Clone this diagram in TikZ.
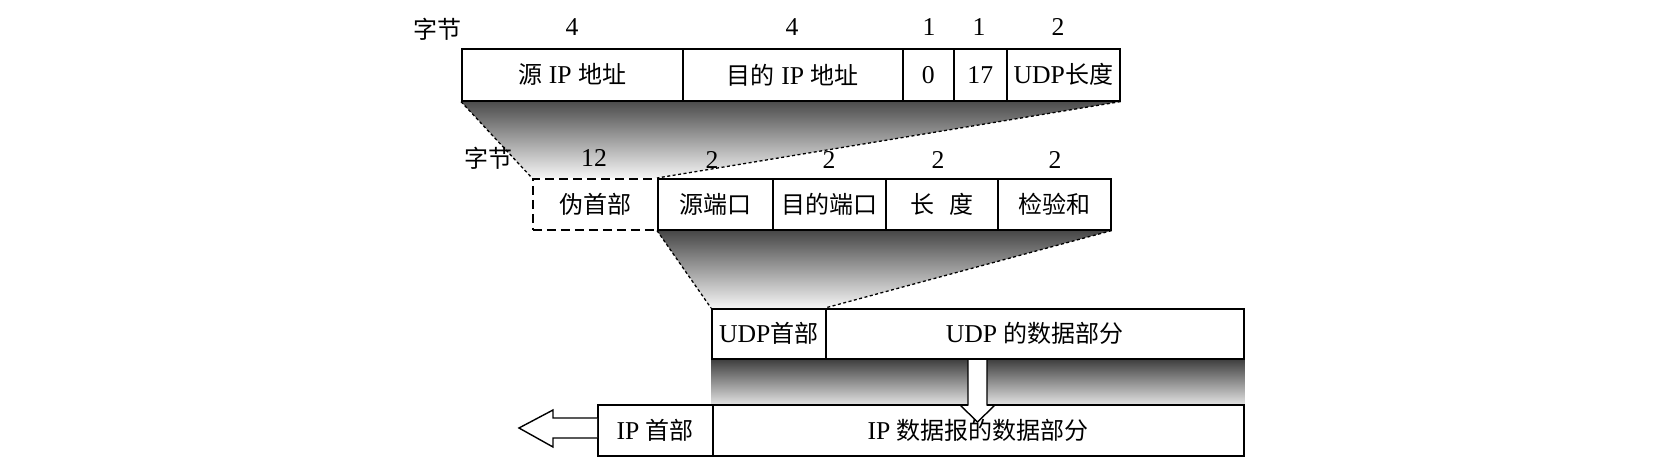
\documentclass[tikz,border=0pt]{standalone}
\usepackage{fontspec}
\setmainfont[Scale=1.07]{Liberation Serif}
\newfontfamily\cjk{Noto Sans CJK SC}
\newcommand{\zh}[1]{{\cjk #1}}
\usetikzlibrary{backgrounds}
\begin{document}
\begin{tikzpicture}[x=1pt,y=-1pt,
  every node/.style={font=\fontsize{24}{28}\selectfont},
  fld/.style 2 args={draw, line width=1.6pt, anchor=north west, inner sep=0pt,
    minimum width=#1, minimum height=#2},
  lbl/.style={inner sep=0pt},
  edgeline/.style={line width=1.3pt, dash pattern=on 3pt off 2.5pt},
  arrowline/.style={draw, line width=1.4pt, line join=miter}]
\useasboundingbox (0,0) rectangle (1678,476);

% row 1
\node[fld={221pt}{52pt}] (srcip) at (461,48) {\zh{源} IP \zh{地址}};
\node[fld={220pt}{52pt}] (dstip) at (682,48) {\zh{目的} IP \zh{地址}};
\node[fld={51pt}{52pt}] (zero) at (902,48) {0};
\node[fld={53pt}{52pt}] (proto) at (953,48) {17};
\node[fld={113pt}{52pt}] (udplen) at (1006,48) {UDP\zh{长度}};
\node[lbl] (bytes1) at (437,29) {\zh{字节}};
\node[lbl] (n11) at (572,27) {4};
\node[lbl] (n12) at (792,27) {4};
\node[lbl] (n13) at (929,27) {1};
\node[lbl] (n14) at (979,27) {1};
\node[lbl] (n15) at (1058,27) {2};

% row 2
\node[fld={125pt}{51pt}, dash pattern=on 9pt off 5pt] (pseudo) at (532,178) {\zh{伪首部}};
\node[fld={115pt}{51pt}] (srcport) at (657,178) {\zh{源端口}};
\node[fld={113pt}{51pt}] (dstport) at (772,178) {\zh{目的端口}};
\node[fld={112pt}{51pt}] (ulen) at (885,178) {\zh{长}\hspace{0.6em}\zh{度}};
\node[fld={113pt}{51pt}] (csum) at (997,178) {\zh{检验和}};
\node[lbl] (bytes2) at (488,158) {\zh{字节}};
\node[lbl] (n21) at (594,158) {12};
\node[lbl] (n22) at (712,160) {2};
\node[lbl] (n23) at (829,160) {2};
\node[lbl] (n24) at (938,160) {2};
\node[lbl] (n25) at (1055,160) {2};

% row 3
\node[fld={114pt}{50pt}] (udphdr) at (711,308) {UDP\zh{首部}};
\node[fld={418pt}{50pt}] (udpdata) at (825,308) {UDP \zh{的数据部分}};

% row 4
\node[fld={115pt}{51pt}] (iphdr) at (597,404) {IP \zh{首部}};
\node[fld={531pt}{51pt}] (ipdata) at (712,404) {IP \zh{数据报的数据部分}};

% shadings
\begin{scope}[on background layer]
\shade[top color=black!70, bottom color=black!4]
  (srcip.south west) -- (udplen.south east) -- (srcport.north west) -- (pseudo.north west) -- cycle;
\shade[top color=black!72, bottom color=black!4]
  (srcport.south west) -- (csum.south east) -- (udpdata.north west) -- (udphdr.north west) -- cycle;
\shade[top color=black!75, bottom color=black!12]
  (udphdr.south west) rectangle (udpdata.south east |- ipdata.north);
\end{scope}

% projection edges
\draw[edgeline] (srcip.south west) -- (pseudo.north west);
\draw[edgeline] (udplen.south east) -- (srcport.north west);
\draw[edgeline] (srcport.south west) -- (udphdr.north west);
\draw[edgeline] (csum.south east) -- (udpdata.north west);

% down arrow
\fill[white] (968,360) rectangle (987,406);
\draw[arrowline] (968,359) -- (968,405) -- (960,405) -- (977.5,422) -- (995,405) -- (987,405) -- (987,359);

% left arrow
\draw[arrowline, fill=white] (597,418) -- (553,418) -- (553,410) -- (519,428) -- (553,447) -- (553,438) -- (597,438);
\end{tikzpicture}
\end{document}
